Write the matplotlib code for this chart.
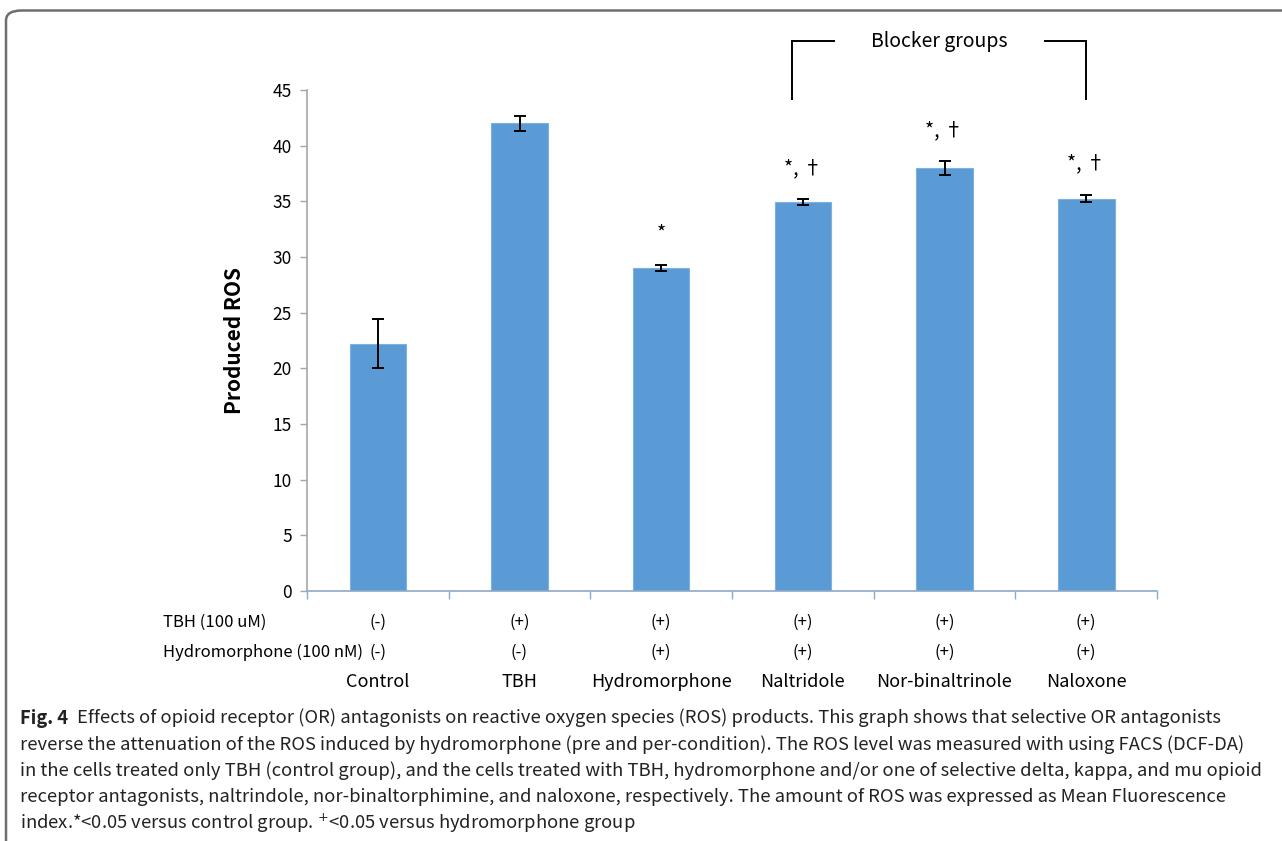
import numpy as np
import matplotlib
matplotlib.use('Agg')
import matplotlib.pyplot as plt
from matplotlib.patches import FancyBboxPatch
from matplotlib.transforms import blended_transform_factory

plt.rcParams['font.family'] = ['Noto Sans CJK KR', 'DejaVu Sans']

# ROS (mean fluorescence) per group
groups = ['Control', 'TBH', 'Hydromorphone', 'Naltridole', 'Nor-binaltrinole', 'Naloxone']
ros = [22.2, 42.0, 29.0, 34.95, 38.0, 35.25]
ros_err = [2.2, 0.7, 0.3, 0.25, 0.6, 0.35]
tbh = ['(-)', '(+)', '(+)', '(+)', '(+)', '(+)']
hydro = ['(-)', '(-)', '(+)', '(+)', '(+)', '(+)']
marks = ['', '', '*', '*, \u2020', '*, \u2020', '*, \u2020']
yticks = [0, 5, 10, 15, 20, 25, 30, 35, 40, 45]

caption = [
    'Effects of opioid receptor (OR) antagonists on reactive oxygen species (ROS) products. This graph shows that selective OR antagonists',
    'reverse the attenuation of the ROS induced by hydromorphone (pre and per-condition). The ROS level was measured with using FACS (DCF-DA)',
    'in the cells treated only TBH (control group), and the cells treated with TBH, hydromorphone and/or one of selective delta, kappa, and mu opioid',
    'receptor antagonists, naltrindole, nor-binaltorphimine, and naloxone, respectively. The amount of ROS was expressed as Mean Fluorescence',
    'index.*<0.05 versus control group. $^{+}$<0.05 versus hydromorphone group',
]

W, H = 1282, 841
fig = plt.figure(figsize=(W / 100, H / 100), dpi=100)

# outer frame with rounded corner
frame = FancyBboxPatch((6 / W, -0.2), 1.2, 1 - 10.5 / H + 0.2,
                       boxstyle='round,pad=0,rounding_size=0.012',
                       transform=fig.transFigure, fill=False,
                       edgecolor='#6e6e6e', lw=1.8, clip_on=False)
fig.patches.append(frame)

ax = fig.add_axes([307 / W, 1 - 591 / H, 850 / W, 501 / H])
x = np.arange(len(groups))
ax.bar(x, ros, width=0.40, color='#5B9BD5', edgecolor='#7FB0DE', lw=0.8, zorder=2)
ax.errorbar(x, ros, yerr=ros_err, fmt='none', ecolor='black', elinewidth=1.4,
            capsize=4.5, capthick=1.4, zorder=3)

ax.set_xlim(-0.5, len(groups) - 0.5)
ax.set_ylim(0, 45)
ax.set_yticks(yticks)
ax.tick_params(axis='y', labelsize=12.5, length=5, color='#a6a6a6', width=1, pad=6)
ax.set_xticks(np.arange(-0.5, len(groups)), minor=False)
ax.set_xticklabels([])
ax.tick_params(axis='x', length=6, color='#8fa8c8', width=1)
for s in ['top', 'right']:
    ax.spines[s].set_visible(False)
ax.spines['left'].set_color('#a6a6a6')
ax.spines['left'].set_linewidth(1.2)
ax.spines['bottom'].set_color('#8fa8c8')
ax.spines['bottom'].set_linewidth(1.2)
ax.set_ylabel('Produced ROS', fontsize=15, fontweight='bold', labelpad=20)

for xi, v, e, m in zip(x, ros, ros_err, marks):
    if m:
        ax.text(xi, v + e + 1.8, m, ha='center', va='bottom', fontsize=14)

# bracket over the blocker groups
bk = dict(color='black', lw=1.4, clip_on=False)
ax.plot([2.92, 2.92], [44.2, 49.4], **bk)
ax.plot([2.92, 3.22], [49.4, 49.4], **bk)
ax.plot([4.71, 5.0], [49.4, 49.4], **bk)
ax.plot([5.0, 5.0], [44.2, 49.4], **bk)
ax.text(3.965, 49.4, 'Blocker groups', ha='center', va='center', fontsize=14)

# treatment rows under the axis
tr = blended_transform_factory(ax.transData, fig.transFigure)
fig.text(163 / W, 1 - 622 / H, 'TBH (100 uM)', ha='left', va='center', fontsize=12)
fig.text(163 / W, 1 - 652 / H, 'Hydromorphone (100 nM)', ha='left', va='center', fontsize=12)
for xi, a, b, g in zip(x, tbh, hydro, groups):
    ax.text(xi, 1 - 622 / H, a, transform=tr, ha='center', va='center', fontsize=12)
    ax.text(xi, 1 - 652 / H, b, transform=tr, ha='center', va='center', fontsize=12)
    ax.text(xi, 1 - 682 / H, g, transform=tr, ha='center', va='center', fontsize=13)

# caption
cap_font = ['Noto Sans CJK JP', 'DejaVu Sans']
cap_size = 13.25
line_y = [718, 745, 771, 797, 823]
fig.canvas.draw()
r = fig.canvas.get_renderer()
t0 = fig.text(20 / W, 1 - line_y[0] / H, 'Fig. 4', fontsize=cap_size, fontweight='bold',
              family=cap_font, ha='left', va='center', color='#222222')
bb = t0.get_window_extent(r)
for i, (line, yy) in enumerate(zip(caption, line_y)):
    x0 = (bb.x1 + 9) / W if i == 0 else 20 / W
    fig.text(x0, 1 - yy / H, line, fontsize=cap_size, family=cap_font,
             ha='left', va='center', color='#222222')

fig.savefig('out.png', dpi=100)
